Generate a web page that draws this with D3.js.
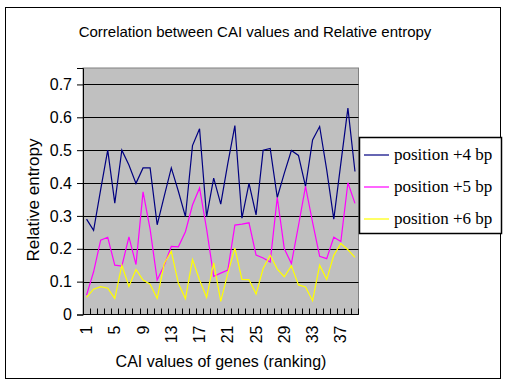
<!DOCTYPE html>
<html>
<head>
<meta charset="utf-8">
<script src="https://cdn.jsdelivr.net/npm/d3@7/dist/d3.min.js"></script>
<style>
  body { margin: 0; background: #fff; }
  text { font-family: "Liberation Sans", Arial, sans-serif; }
</style>
</head>
<body>
<script>
var w = 512;
var h = 384;

// genes ranked by CAI value
var genes = [1, 2, 3, 4, 5, 6, 7, 8, 9, 10, 11, 12, 13, 14, 15, 16, 17, 18, 19, 20,
  21, 22, 23, 24, 25, 26, 27, 28, 29, 30, 31, 32, 33, 34, 35, 36, 37, 38, 39];

var pos4 = [0.29, 0.256, 0.38, 0.5, 0.339, 0.5, 0.455, 0.399, 0.446, 0.446,
  0.273, 0.36, 0.446, 0.375, 0.298, 0.514, 0.565, 0.298, 0.415, 0.336,
  0.46, 0.575, 0.293, 0.399, 0.303, 0.5, 0.505, 0.356, 0.43, 0.499,
  0.484, 0.39, 0.531, 0.572, 0.44, 0.29, 0.46, 0.628, 0.435];

var pos5 = [0.059, 0.13, 0.226, 0.235, 0.15, 0.147, 0.236, 0.152, 0.373, 0.26,
  0.105, 0.15, 0.207, 0.206, 0.252, 0.333, 0.385, 0.26, 0.116, 0.126,
  0.135, 0.272, 0.275, 0.279, 0.181, 0.172, 0.16, 0.356, 0.2, 0.155,
  0.27, 0.39, 0.28, 0.177, 0.17, 0.235, 0.222, 0.401, 0.338];

var pos6 = [0.052, 0.077, 0.085, 0.08, 0.049, 0.15, 0.085, 0.137, 0.105, 0.092,
  0.049, 0.155, 0.192, 0.095, 0.048, 0.167, 0.105, 0.052, 0.157, 0.04,
  0.125, 0.202, 0.107, 0.106, 0.062, 0.14, 0.18, 0.138, 0.115, 0.148,
  0.09, 0.084, 0.042, 0.15, 0.107, 0.18, 0.216, 0.197, 0.174];

var seriesNames = ["position +4 bp", "position +5 bp", "position +6 bp"];
var seriesColors = ["#000080", "#ff00ff", "#ffff00"];

var yTicks = [0, 0.1, 0.2, 0.3, 0.4, 0.5, 0.6, 0.7];
var yLabels = ["0", "0.1", "0.2", "0.3", "0.4", "0.5", "0.6", "0.7"];
var xLabels = [1, 5, 9, 13, 17, 21, 25, 29, 33, 37];

var plot = { left: 83, right: 358.5, top: 68, bottom: 314.5 };

var x = d3.scaleBand()
  .domain(genes)
  .range([plot.left, plot.right]);

var y = d3.scaleLinear()
  .domain([0, 0.75])
  .range([plot.bottom, plot.top]);

var bw = x.bandwidth();

var svg = d3.select("body").append("svg")
  .attr("width", w)
  .attr("height", h);

// chart area
svg.append("rect")
  .attr("x", 5.5).attr("y", 7.5)
  .attr("width", 495).attr("height", 371)
  .attr("fill", "#fff")
  .attr("stroke", "#000");

svg.append("text")
  .attr("x", 255)
  .attr("y", 37)
  .attr("text-anchor", "middle")
  .style("font-size", "15px")
  .text("Correlation between CAI values and Relative entropy");

// plot area
svg.append("rect")
  .attr("x", plot.left).attr("y", plot.top)
  .attr("width", plot.right - plot.left)
  .attr("height", plot.bottom - plot.top)
  .attr("fill", "#c0c0c0")
  .attr("stroke", "#808080");

svg.append("g")
  .selectAll("line")
  .data(yTicks.slice(1))
  .enter()
  .append("line")
  .attr("x1", plot.left).attr("x2", plot.right)
  .attr("y1", function (d) { return Math.round(y(d)) + 0.5; })
  .attr("y2", function (d) { return Math.round(y(d)) + 0.5; })
  .attr("stroke", "#000");

// y axis
var yAxis = svg.append("g")
  .attr("transform", "translate(" + plot.left + ",0)")
  .call(d3.axisLeft(y)
    .tickValues(yTicks)
    .tickSize(6)
    .tickPadding(5)
    .tickFormat(function (d, i) { return yLabels[i]; }));
yAxis.select(".domain").attr("stroke", "#000");
yAxis.selectAll("text")
  .style("font-size", "16px")
  .style("font-family", "'Liberation Sans', Arial, sans-serif");

// x axis: ticks between categories, pointing inward
svg.append("g")
  .selectAll("line")
  .data(genes)
  .enter()
  .append("line")
  .attr("x1", function (d) { return Math.round(x(d) + bw) + 0.5; })
  .attr("x2", function (d) { return Math.round(x(d) + bw) + 0.5; })
  .attr("y1", plot.bottom)
  .attr("y2", plot.bottom - 6)
  .attr("stroke", "#000");

svg.append("line")
  .attr("x1", plot.left).attr("x2", plot.right)
  .attr("y1", plot.bottom).attr("y2", plot.bottom)
  .attr("stroke", "#000");

svg.append("g")
  .selectAll("text")
  .data(xLabels)
  .enter()
  .append("text")
  .attr("transform", function (d) {
    return "translate(" + (x(d) + bw / 2) + "," + (plot.bottom + 11) + ") rotate(-90)";
  })
  .attr("text-anchor", "end")
  .attr("dy", "0.35em")
  .style("font-size", "16px")
  .text(function (d) { return d; });

svg.append("text")
  .attr("x", 221)
  .attr("y", 367)
  .attr("text-anchor", "middle")
  .style("font-size", "16px")
  .text("CAI values of genes (ranking)");

svg.append("text")
  .attr("transform", "translate(39,200) rotate(-90)")
  .attr("text-anchor", "middle")
  .style("font-size", "17px")
  .text("Relative entropy");

// series
var line = d3.line()
  .x(function (d, i) { return x(genes[i]) + bw / 2; })
  .y(function (d) { return y(d); });

[pos4, pos5, pos6].forEach(function (s, k) {
  svg.append("path")
    .datum(s)
    .attr("d", line)
    .attr("fill", "none")
    .attr("stroke", seriesColors[k])
    .attr("stroke-width", 1.2);
});

// legend
var legend = svg.append("g");
legend.append("rect")
  .attr("x", 359.5).attr("y", 137.5)
  .attr("width", 142).attr("height", 96)
  .attr("fill", "#fff")
  .attr("stroke", "#000")
  .attr("stroke-width", 1.5);

var items = legend.selectAll(".item")
  .data(seriesNames)
  .enter()
  .append("g")
  .attr("transform", function (d, i) { return "translate(364," + (155 + i * 32) + ")"; });

items.append("line")
  .attr("x1", 0).attr("x2", 25)
  .attr("stroke", function (d, i) { return seriesColors[i]; })
  .attr("stroke-width", 1.2);

items.append("text")
  .attr("x", 30)
  .attr("y", 5)
  .style("font-family", "'Liberation Serif', 'Times New Roman', serif")
  .style("font-size", "17px")
  .text(function (d) { return d; });
</script>
</body>
</html>
